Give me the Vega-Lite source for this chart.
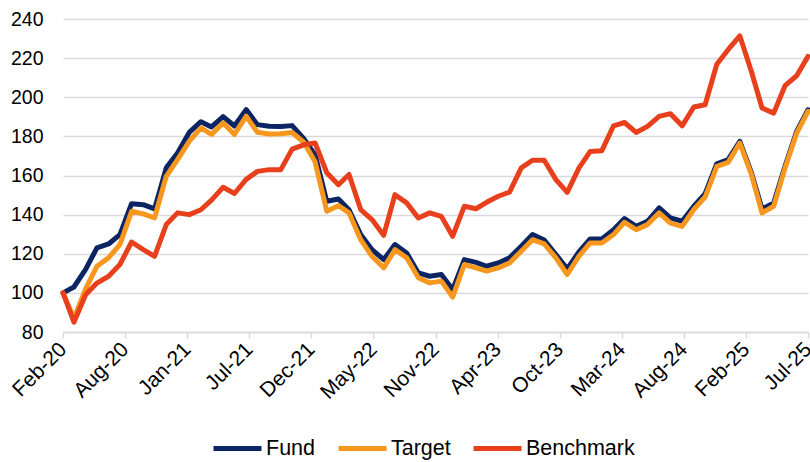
{
  "$schema": "https://vega.github.io/schema/vega-lite/v6.json",
  "width": 745,
  "height": 313,
  "autosize": {"type": "none"},
  "padding": {"left": 63, "top": 19, "right": 2, "bottom": 130},
  "background": "white",
  "config": {"font": "Liberation Sans", "view": {"stroke": null}},
  "data": {"values": [
    {"date": "2020-02-01", "Fund": 100, "Target": 100, "Benchmark": 100},
    {"date": "2020-03-01", "Fund": 103, "Target": 87, "Benchmark": 85},
    {"date": "2020-04-01", "Fund": 112, "Target": 102, "Benchmark": 99},
    {"date": "2020-05-01", "Fund": 123, "Target": 113.6, "Benchmark": 105},
    {"date": "2020-06-01", "Fund": 125, "Target": 118, "Benchmark": 108.5},
    {"date": "2020-07-01", "Fund": 129.8, "Target": 124.7, "Benchmark": 114.5},
    {"date": "2020-08-01", "Fund": 145.6, "Target": 141.7, "Benchmark": 126},
    {"date": "2020-09-01", "Fund": 145.1, "Target": 140.4, "Benchmark": 122.1},
    {"date": "2020-10-01", "Fund": 142.9, "Target": 138.3, "Benchmark": 118.7},
    {"date": "2020-11-01", "Fund": 163.9, "Target": 159.6, "Benchmark": 134.9},
    {"date": "2020-12-01", "Fund": 171.5, "Target": 168.1, "Benchmark": 140.9},
    {"date": "2021-01-01", "Fund": 182, "Target": 177.4, "Benchmark": 140},
    {"date": "2021-02-01", "Fund": 187.5, "Target": 184.3, "Benchmark": 142.5},
    {"date": "2021-03-01", "Fund": 184.8, "Target": 181, "Benchmark": 147.4},
    {"date": "2021-04-01", "Fund": 190.1, "Target": 186.9, "Benchmark": 154},
    {"date": "2021-05-01", "Fund": 185.3, "Target": 181, "Benchmark": 150.8},
    {"date": "2021-06-01", "Fund": 193.7, "Target": 190.3, "Benchmark": 158},
    {"date": "2021-07-01", "Fund": 186, "Target": 182.1, "Benchmark": 162.1},
    {"date": "2021-08-01", "Fund": 185.2, "Target": 181.2, "Benchmark": 163},
    {"date": "2021-09-01", "Fund": 185, "Target": 181.3, "Benchmark": 163},
    {"date": "2021-10-01", "Fund": 185.5, "Target": 182, "Benchmark": 173.5},
    {"date": "2021-11-01", "Fund": 178.8, "Target": 177, "Benchmark": 175.7},
    {"date": "2021-12-01", "Fund": 170.5, "Target": 167, "Benchmark": 176.6},
    {"date": "2022-01-01", "Fund": 146.8, "Target": 141.7, "Benchmark": 161.4},
    {"date": "2022-02-01", "Fund": 148, "Target": 144.6, "Benchmark": 155.3},
    {"date": "2022-03-01", "Fund": 142.5, "Target": 140.9, "Benchmark": 160.5},
    {"date": "2022-04-01", "Fund": 129.8, "Target": 127.2, "Benchmark": 142.6},
    {"date": "2022-05-01", "Fund": 122.1, "Target": 118.7, "Benchmark": 137.5},
    {"date": "2022-06-01", "Fund": 117, "Target": 112.8, "Benchmark": 129.4},
    {"date": "2022-07-01", "Fund": 124.7, "Target": 122.1, "Benchmark": 150.2},
    {"date": "2022-08-01", "Fund": 120.4, "Target": 117.9, "Benchmark": 146},
    {"date": "2022-09-01", "Fund": 110.2, "Target": 107.7, "Benchmark": 138.3},
    {"date": "2022-10-01", "Fund": 108.5, "Target": 105.1, "Benchmark": 140.9},
    {"date": "2022-11-01", "Fund": 109.4, "Target": 106, "Benchmark": 139.1},
    {"date": "2022-12-01", "Fund": 101.7, "Target": 97.8, "Benchmark": 128.9},
    {"date": "2023-01-01", "Fund": 117, "Target": 114.5, "Benchmark": 144.3},
    {"date": "2023-02-01", "Fund": 115.6, "Target": 112.8, "Benchmark": 143},
    {"date": "2023-03-01", "Fund": 113.6, "Target": 111.1, "Benchmark": 146.3},
    {"date": "2023-04-01", "Fund": 115.3, "Target": 112.8, "Benchmark": 149.4},
    {"date": "2023-05-01", "Fund": 117.9, "Target": 115.3, "Benchmark": 151.5},
    {"date": "2023-06-01", "Fund": 123.8, "Target": 121.3, "Benchmark": 163.9},
    {"date": "2023-07-01", "Fund": 129.8, "Target": 127.2, "Benchmark": 167.8},
    {"date": "2023-08-01", "Fund": 127, "Target": 125, "Benchmark": 167.8},
    {"date": "2023-09-01", "Fund": 119.6, "Target": 117.9, "Benchmark": 157.9},
    {"date": "2023-10-01", "Fund": 112.3, "Target": 109.4, "Benchmark": 151.4},
    {"date": "2023-11-01", "Fund": 120.9, "Target": 118.7, "Benchmark": 163.8},
    {"date": "2023-12-01", "Fund": 127.6, "Target": 125.5, "Benchmark": 172.3},
    {"date": "2024-01-01", "Fund": 127.6, "Target": 125.5, "Benchmark": 172.7},
    {"date": "2024-02-01", "Fund": 132.3, "Target": 129.8, "Benchmark": 185.4},
    {"date": "2024-03-01", "Fund": 138, "Target": 136.1, "Benchmark": 187.1},
    {"date": "2024-04-01", "Fund": 134, "Target": 132.3, "Benchmark": 182},
    {"date": "2024-05-01", "Fund": 136.6, "Target": 134.9, "Benchmark": 185.1},
    {"date": "2024-06-01", "Fund": 143.4, "Target": 140.9, "Benchmark": 190.2},
    {"date": "2024-07-01", "Fund": 138.3, "Target": 135.7, "Benchmark": 191.6},
    {"date": "2024-08-01", "Fund": 136.6, "Target": 134, "Benchmark": 185.4},
    {"date": "2024-09-01", "Fund": 144.3, "Target": 142.6, "Benchmark": 195},
    {"date": "2024-10-01", "Fund": 150.7, "Target": 149, "Benchmark": 196.2},
    {"date": "2024-11-01", "Fund": 166, "Target": 164.7, "Benchmark": 216.9},
    {"date": "2024-12-01", "Fund": 168.1, "Target": 166.7, "Benchmark": 224.3},
    {"date": "2025-01-01", "Fund": 177.4, "Target": 176.6, "Benchmark": 231.4},
    {"date": "2025-02-01", "Fund": 161.3, "Target": 160.4, "Benchmark": 213},
    {"date": "2025-03-01", "Fund": 142.9, "Target": 140.9, "Benchmark": 194.5},
    {"date": "2025-04-01", "Fund": 146, "Target": 144.3, "Benchmark": 191.9},
    {"date": "2025-05-01", "Fund": 164.7, "Target": 163.8, "Benchmark": 205.9},
    {"date": "2025-06-01", "Fund": 182.6, "Target": 181.7, "Benchmark": 211},
    {"date": "2025-07-01", "Fund": 193.6, "Target": 192.8, "Benchmark": 220.9}
  ]},
  "transform": [{"fold": ["Fund", "Target", "Benchmark"], "as": ["series", "value"]}],
  "mark": {"type": "line", "strokeWidth": 5, "strokeJoin": "round", "strokeCap": "round"},
  "encoding": {
    "x": {
      "field": "date",
      "type": "temporal",
      "scale": {"type": "utc", "nice": false},
      "axis": {
        "title": null,
        "values": [1580515200000, 1594749600000, 1608984000000, 1623218400000, 1637452800000, 1651687200000, 1665921600000, 1680156000000, 1694390400000, 1708624800000, 1722859200000, 1737093600000, 1751328000000],
        "labelExpr": "['Feb-20','Aug-20','Jan-21','Jul-21','Dec-21','May-22','Nov-22','Apr-23','Oct-23','Mar-24','Aug-24','Feb-25','Jul-25'][round((datum.value - 1580515200000) / 14234400000)]",
        "labelAngle": -45,
        "labelAlign": "right",
        "labelBaseline": "middle",
        "labelFontSize": 21,
        "labelColor": "#000000",
        "labelPadding": 8,
        "labelOverlap": false,
        "labelFlush": false,
        "labelBound": false,
        "grid": false,
        "domainColor": "#d9d9d9",
        "domainWidth": 1.5,
        "tickColor": "#d9d9d9",
        "tickWidth": 1.5,
        "tickSize": 6
      }
    },
    "y": {
      "field": "value",
      "type": "quantitative",
      "scale": {"domain": [80, 240], "nice": false, "zero": false},
      "axis": {
        "title": null,
        "values": [80, 100, 120, 140, 160, 180, 200, 220, 240],
        "grid": true,
        "gridColor": "#d9d9d9",
        "gridWidth": 1.5,
        "domain": false,
        "ticks": false,
        "labelFontSize": 19.5,
        "labelColor": "#000000",
        "labelPadding": 20
      }
    },
    "color": {
      "field": "series",
      "type": "nominal",
      "scale": {"domain": ["Fund", "Target", "Benchmark"], "range": ["#0B2463", "#F7971E", "#E8401C"]},
      "legend": {
        "title": null,
        "orient": "none",
        "legendX": 148,
        "legendY": 403,
        "direction": "horizontal",
        "symbolType": "stroke",
        "symbolSize": 2300,
        "symbolStrokeWidth": 5,
        "labelFontSize": 21.5,
        "labelColor": "#000000",
        "labelOffset": 2,
        "columnPadding": 12
      }
    }
  }
}
